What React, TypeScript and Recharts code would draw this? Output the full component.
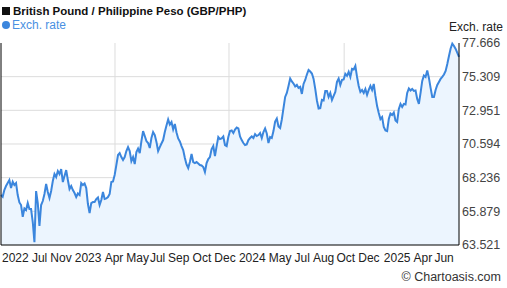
import React from 'react';
import { ComposedChart, Area, XAxis, YAxis, CartesianGrid } from 'recharts';

const rates: number[] = [
  67.02, 66.90, 67.37, 67.65, 67.86, 68.07, 67.51, 67.95, 67.72, 67.86,
  67.02, 66.50, 66.32, 65.50, 66.08, 65.97, 66.46, 66.04, 66.04, 65.13,
  63.72, 67.30, 66.46, 64.85, 66.32, 66.60, 67.09, 67.79, 67.23, 66.81,
  67.30, 68.00, 68.49, 68.28, 68.70, 68.49, 68.84, 67.93, 68.35, 68.77,
  68.07, 67.44, 67.65, 67.37, 67.16, 66.88, 67.13, 67.02, 67.86, 67.72,
  67.83, 67.51, 66.39, 65.76, 66.46, 66.53, 66.53, 66.74, 66.85, 66.32,
  66.67, 67.23, 66.74, 66.78, 66.88, 67.09, 67.93, 67.97, 68.42, 69.12,
  69.82, 69.96, 69.68, 69.47, 69.68, 70.10, 70.38, 70.10, 69.40, 69.68,
  69.19, 70.03, 70.28, 69.96, 70.80, 71.50, 71.15, 70.80, 70.66, 70.31,
  71.01, 71.43, 71.22, 70.73, 70.10, 70.38, 70.63, 70.87, 71.43, 71.89,
  72.31, 71.96, 72.13, 71.61, 71.99, 71.40, 70.98, 70.77, 70.45, 70.17,
  69.61, 69.16, 68.91, 69.33, 69.89, 69.33, 69.26, 69.33, 69.23, 69.12,
  69.09, 68.98, 68.63, 69.26, 69.54, 69.68, 70.24, 70.45, 69.75, 70.45,
  71.08, 70.94, 70.98, 71.12, 70.52, 70.45, 71.08, 71.50, 71.54, 71.36,
  71.61, 71.75, 71.68, 71.12, 70.87, 70.66, 70.52, 70.56, 70.87, 71.01,
  71.12, 71.01, 71.29, 71.15, 71.22, 71.36, 71.01, 71.43, 71.68, 71.33,
  70.66, 71.08, 71.01, 71.50, 72.17, 72.38, 71.82, 71.71, 72.31, 73.11,
  73.89, 74.17, 74.66, 75.18, 74.97, 74.83, 74.62, 74.73, 74.52, 74.59,
  74.10, 74.80, 75.08, 75.46, 75.78, 75.67, 75.53, 75.15, 74.45, 73.64,
  73.08, 73.11, 73.68, 73.64, 74.31, 74.31, 73.89, 74.17, 73.68, 73.96,
  74.24, 74.94, 75.18, 74.73, 75.08, 75.11, 75.50, 75.36, 75.64, 75.29,
  75.85, 75.81, 76.06, 75.29, 74.66, 74.24, 74.38, 74.17, 74.45, 74.03,
  74.38, 74.66, 74.38, 74.80, 73.96, 73.25, 72.77, 72.34, 72.48, 71.78,
  71.54, 71.50, 72.34, 72.73, 72.62, 72.80, 72.24, 72.14, 73.05, 73.40,
  73.19, 73.40, 73.36, 74.17, 74.48, 74.34, 74.45, 74.31, 74.34, 73.75,
  73.40, 74.17, 75.01, 75.39, 75.29, 75.74, 75.22, 74.52, 73.89, 73.89,
  74.38, 74.73, 74.94, 75.15, 75.29, 75.46, 75.71, 76.20, 76.76, 77.28,
  77.62, 77.46, 77.25, 76.97, 76.69,
];

const yTicks: number[] = [63.521, 65.879, 68.236, 70.594, 72.951, 75.309, 77.666];

const xTickLabels: string[] = [
  '2022', 'Jul', 'Nov', '2023', 'Apr', 'May', 'Jul', 'Sep', 'Oct', 'Dec',
  '2024', 'May', 'Jul', 'Aug', 'Oct', 'Dec', '2025', 'Apr', 'Jun',
];
// sample index where each label sits
const xTickIndex: number[] = [
  8.6, 23.1, 35.9, 52.1, 67.6, 81.7, 93.7, 106.3, 120.2, 134.0,
  150.3, 167.0, 180.2, 193.0, 206.3, 220.1, 237.0, 252.4, 265.1,
];
// sample index of vertical grid lines
const xGridIndex: number[] = [68.2, 136.4, 205.3];

const data = rates.map((rate, i) => ({ i, rate }));
const lastIndex = rates.length - 1;

const FONT = '"Liberation Sans", Arial, sans-serif';
const LINE = '#3b86dd';

export default function App() {
  return (
    <div
      style={{
        position: 'absolute',
        left: 0,
        top: 0,
        width: 507,
        height: 288,
        background: '#fff',
        fontFamily: FONT,
        overflow: 'hidden',
      }}
    >
      <ComposedChart
        width={507}
        height={288}
        data={data}
        margin={{ top: 43, right: 0, bottom: 0, left: 0 }}
      >
        <CartesianGrid
          yAxisId="r"
          stroke="#dcdcdc"
          verticalCoordinatesGenerator={(p: any) => {
            const s = p?.xAxis?.scale;
            if (typeof s === 'function') return xGridIndex.map((d) => s(d));
            const o = p.offset;
            return xGridIndex.map((d) => o.left + (d / lastIndex) * o.width);
          }}
          horizontalCoordinatesGenerator={(p: any) => {
            const s = p?.yAxis?.scale;
            const inner = yTicks.slice(1, yTicks.length - 1);
            if (typeof s === 'function') return inner.map((t) => s(t));
            const o = p.offset;
            return inner.map(
              (t) => o.top + o.height * (1 - (t - yTicks[0]) / (yTicks[yTicks.length - 1] - yTicks[0]))
            );
          }}
        />
        <XAxis
          dataKey="i"
          type="number"
          domain={[0, lastIndex]}
          ticks={xTickIndex}
          interval={0}
          height={43}
          tickSize={0}
          tickMargin={8}
          tickLine={false}
          axisLine={{ stroke: '#000', strokeWidth: 1 }}
          tickFormatter={(_v: number, idx: number) => xTickLabels[idx]}
          tick={{ fontSize: 12, fill: '#222', fontFamily: FONT }}
        />
        <YAxis
          yAxisId="l"
          orientation="left"
          width={1}
          domain={[yTicks[0], yTicks[yTicks.length - 1]]}
          tick={false}
          tickLine={false}
          axisLine={{ stroke: '#000', strokeWidth: 1 }}
        />
        <YAxis
          yAxisId="r"
          orientation="right"
          width={48}
          type="number"
          domain={[yTicks[0], yTicks[yTicks.length - 1]]}
          ticks={yTicks}
          interval={0}
          tickSize={0}
          tickMargin={3}
          tickLine={false}
          axisLine={{ stroke: '#000', strokeWidth: 1 }}
          tickFormatter={(v: number) => v.toFixed(3)}
          tick={{ fontSize: 12.5, fill: '#444', fontFamily: FONT }}
        />
        <Area
          yAxisId="r"
          type="linear"
          dataKey="rate"
          stroke={LINE}
          strokeWidth={2}
          fill="#ecf5fe"
          fillOpacity={1}
          dot={false}
          activeDot={false}
          isAnimationActive={false}
        />
      </ComposedChart>

      <div
        style={{
          position: 'absolute',
          left: 2,
          top: 7,
          width: 8,
          height: 8,
          background: '#111',
        }}
      />
      <div
        style={{
          position: 'absolute',
          left: 13,
          top: 4,
          fontSize: 11.5,
          lineHeight: '14px',
          fontWeight: 'bold',
          color: '#111',
          whiteSpace: 'nowrap',
        }}
      >
        British Pound / Philippine Peso (GBP/PHP)
      </div>
      <div
        style={{
          position: 'absolute',
          left: 2,
          top: 21,
          width: 8,
          height: 8,
          borderRadius: 4,
          background: LINE,
        }}
      />
      <div
        style={{
          position: 'absolute',
          left: 12,
          top: 18,
          fontSize: 12,
          lineHeight: '14px',
          color: '#4a90e2',
          whiteSpace: 'nowrap',
        }}
      >
        Exch. rate
      </div>
      <div
        style={{
          position: 'absolute',
          right: 4,
          top: 20,
          fontSize: 12,
          lineHeight: '14px',
          color: '#222',
          whiteSpace: 'nowrap',
        }}
      >
        Exch. rate
      </div>
      <div
        style={{
          position: 'absolute',
          right: 6,
          top: 270,
          fontSize: 12.5,
          lineHeight: '14px',
          color: '#333',
          whiteSpace: 'nowrap',
        }}
      >
        © Chartoasis.com
      </div>
    </div>
  );
}
